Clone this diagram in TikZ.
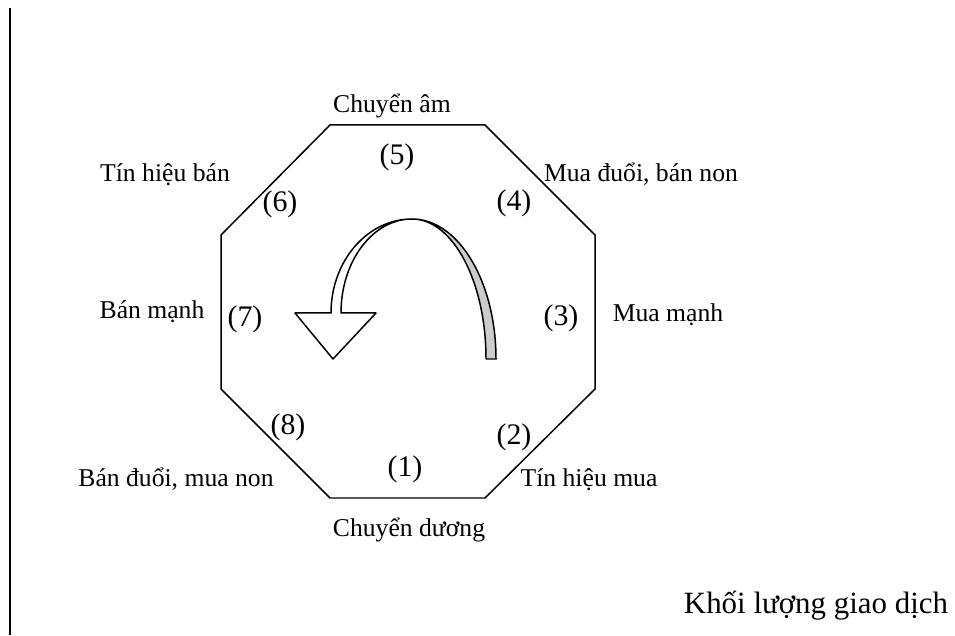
\documentclass[tikz,border=0pt]{standalone}
\usepackage{fontspec}
\setmainfont{Liberation Serif}
\usepackage{tikz}

\begin{document}
\begin{tikzpicture}[
    x=0.02cm, y=0.02cm,
    phase/.style={inner sep=0pt, font=\fontsize{17}{20}\selectfont},
    signal/.style={anchor=base, inner sep=0pt, font=\fontsize{14.6}{17}\selectfont},
    border/.style={line width=0.85pt, line join=miter},
    ribbon/.style={line width=0.85pt, line join=round},
  ]
    \useasboundingbox (0,0) rectangle (955,635);

    % Axis
    \coordinate (axtop) at (10,627);
    \coordinate (axbot) at (10,0);
    \draw[line width=1.1pt] (axtop) -- (axbot);

    % Octagon
    \coordinate (o1) at (330,510);
    \coordinate (o2) at (485,510);
    \coordinate (o3) at (595,400);
    \coordinate (o4) at (595,246);
    \coordinate (o5) at (485,137);
    \coordinate (o6) at (330,137);
    \coordinate (o7) at (221,246);
    \coordinate (o8) at (221,400);
    \draw[border] (o1) -- (o2) -- (o3) -- (o4) -- (o5) -- (o6) -- (o7) -- (o8) -- cycle;

    % Phases
    \node[phase] (p1) at (405,166) {(1)};
    \node[phase] (p2) at (514,198) {(2)};
    \node[phase] (p3) at (561,317) {(3)};
    \node[phase] (p4) at (514,432) {(4)};
    \node[phase] (p5) at (397,478) {(5)};
    \node[phase] (p6) at (280,431) {(6)};
    \node[phase] (p7) at (245,316) {(7)};
    \node[phase] (p8) at (288,208) {(8)};

    % Signals
    \node[signal] (s1) at (409,99) {Chuyển dương};
    \node[signal] (s2) at (589,149) {Tín hiệu mua};
    \node[signal] (s3) at (668,313) {Mua mạnh};
    \node[signal] (s4) at (641,453) {Mua đuổi, bán non};
    \node[signal] (s5) at (392,522) {Chuyển âm};
    \node[signal] (s6) at (165,453) {Tín hiệu bán};
    \node[signal] (s7) at (152,316) {Bán mạnh};
    \node[signal] (s8) at (176,149) {Bán đuổi, mua non};

    % Rotation arrow
    \draw[ribbon, fill=black!20] (412,416)
        arc[start angle=90, end angle=0, x radius=84, y radius=140]
        -- (486,276)
        arc[start angle=0, end angle=90, x radius=74, y radius=140] -- cycle;
    \draw[ribbon, fill=white] (341,322)
        arc[start angle=180, end angle=90, x radius=71, y radius=94]
        arc[start angle=90, end angle=180, x radius=81, y radius=94]
        -- (295,322) -- (333,276) -- (376,322) -- cycle;

    % Volume
    \node[signal, font=\fontsize{17.6}{20}\selectfont] (vol) at (816,22) {Khối lượng giao dịch};
  \end{tikzpicture}
\end{document}
